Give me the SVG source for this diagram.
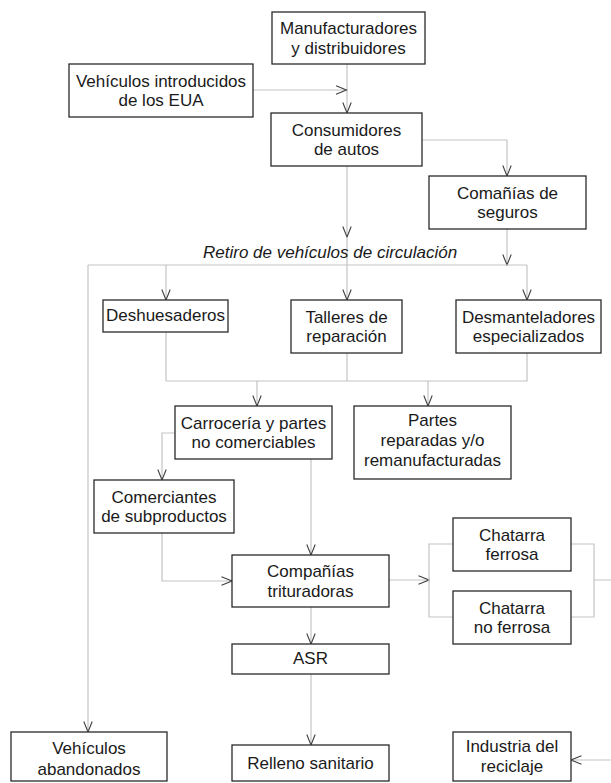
<svg xmlns="http://www.w3.org/2000/svg" width="611" height="783" viewBox="0 0 611 783">
<style>
  .box { fill: #ffffff; stroke: #2a2a2a; stroke-width: 1.3; }
  .t { font-family: "Liberation Sans", Arial, sans-serif; font-size: 17px; fill: #1a1a1a; text-anchor: middle; }
  .lbl { font-family: "Liberation Sans", Arial, sans-serif; font-size: 17px; font-style: italic; fill: #1a1a1a; }
  .c { fill: none; stroke: #c4c4c4; stroke-width: 1.2; }
  .a { marker-end: url(#arr); }
</style>
<defs>
  <marker id="arr" markerUnits="userSpaceOnUse" viewBox="-12 -6 13 12" refX="0" refY="0" markerWidth="13" markerHeight="12" orient="auto">
    <path d="M-10.5,-4.2 L0,0 L-10.5,4.2" fill="none" stroke="#404040" stroke-width="1.1"/>
  </marker>
</defs>
<rect width="611" height="783" fill="#ffffff"/>

<g id="connectors">
  <path class="c a" d="M347,64 V113"/>
  <path class="c a" d="M253,90 H346.5"/>
  <path class="c a" d="M422,140 H507 V176"/>
  <path class="c a" d="M347,166 V237"/>
  <path class="c a" d="M347,237 V300"/>
  <path class="c a" d="M507,229 V265"/>
  <path class="c" d="M88,265 H527"/>
  <path class="c a" d="M166,265 V300"/>
  <path class="c a" d="M527,265 V300"/>
  <path class="c a" d="M88,265 V732"/>
  <path class="c" d="M166,332 V381 H527 V353"/>
  <path class="c" d="M347,353 V381"/>
  <path class="c a" d="M257,381 V406"/>
  <path class="c a" d="M428,381 V406"/>
  <path class="c a" d="M175,433 H162 V480"/>
  <path class="c a" d="M311,459 V555"/>
  <path class="c a" d="M162,533 V581 H232"/>
  <path class="c a" d="M389,580 H429"/>
  <path class="c" d="M453,544 H429 V617 H453"/>
  <path class="c" d="M571,544 H594 V617 H571"/>
  <path class="c a" d="M594,580 H616 V760 H571"/>
  <path class="c a" d="M311,607 V644"/>
  <path class="c a" d="M311,674 V745"/>
</g>

<text class="lbl" x="203" y="258">Retiro de vehículos de circulación</text>

<g id="manufacturadores">
  <rect class="box" x="272" y="12" width="153" height="52"/>
  <text class="t" x="348.5" y="34">Manufacturadores</text>
  <text class="t" x="348.5" y="53.5">y distribuidores</text>
</g>
<g id="vehiculos-introducidos">
  <rect class="box" x="69" y="64" width="184" height="53"/>
  <text class="t" x="161" y="86.5">Vehículos introducidos</text>
  <text class="t" x="161" y="106">de los EUA</text>
</g>
<g id="consumidores">
  <rect class="box" x="271" y="113" width="151" height="53"/>
  <text class="t" x="346.5" y="135.5">Consumidores</text>
  <text class="t" x="346.5" y="155">de autos</text>
</g>
<g id="seguros">
  <rect class="box" x="429" y="176" width="157" height="53"/>
  <text class="t" x="507.5" y="198.5">Comañías de</text>
  <text class="t" x="507.5" y="218">seguros</text>
</g>
<g id="deshuesaderos">
  <rect class="box" x="103" y="300" width="125" height="32"/>
  <text class="t" x="165.5" y="321">Deshuesaderos</text>
</g>
<g id="talleres">
  <rect class="box" x="291" y="300" width="111" height="53"/>
  <text class="t" x="346.5" y="322.5">Talleres de</text>
  <text class="t" x="346.5" y="342">reparación</text>
</g>
<g id="desmanteladores">
  <rect class="box" x="456" y="300" width="145" height="53"/>
  <text class="t" x="528.5" y="322.5">Desmanteladores</text>
  <text class="t" x="528.5" y="342">especializados</text>
</g>
<g id="carroceria">
  <rect class="box" x="175" y="406" width="157" height="53"/>
  <text class="t" x="253.5" y="428.5">Carrocería y partes</text>
  <text class="t" x="253.5" y="448">no comerciables</text>
</g>
<g id="partes">
  <rect class="box" x="354" y="406" width="157" height="73"/>
  <text class="t" x="432.5" y="425.5">Partes</text>
  <text class="t" x="432.5" y="445.5">reparadas y/o</text>
  <text class="t" x="432.5" y="465.5">remanufacturadas</text>
</g>
<g id="comerciantes">
  <rect class="box" x="94" y="480" width="140" height="53"/>
  <text class="t" x="164" y="502.5">Comerciantes</text>
  <text class="t" x="164" y="522">de subproductos</text>
</g>
<g id="trituradoras">
  <rect class="box" x="232" y="555" width="157" height="52"/>
  <text class="t" x="310.5" y="577">Compañías</text>
  <text class="t" x="310.5" y="596.5">trituradoras</text>
</g>
<g id="chatarra-ferrosa">
  <rect class="box" x="453" y="518" width="118" height="53"/>
  <text class="t" x="512" y="540.5">Chatarra</text>
  <text class="t" x="512" y="560">ferrosa</text>
</g>
<g id="chatarra-no-ferrosa">
  <rect class="box" x="453" y="591" width="118" height="53"/>
  <text class="t" x="512" y="613.5">Chatarra</text>
  <text class="t" x="512" y="633">no ferrosa</text>
</g>
<g id="asr">
  <rect class="box" x="232" y="644" width="157" height="30"/>
  <text class="t" x="310.5" y="664">ASR</text>
</g>
<g id="relleno">
  <rect class="box" x="232" y="745" width="157" height="36"/>
  <text class="t" x="310.5" y="768.5">Relleno sanitario</text>
</g>
<g id="vehiculos-abandonados">
  <rect class="box" x="11" y="732" width="156" height="49"/>
  <text class="t" x="89" y="754">Vehículos</text>
  <text class="t" x="89" y="774.5">abandonados</text>
</g>
<g id="industria">
  <rect class="box" x="453" y="732" width="118" height="49"/>
  <text class="t" x="512" y="752">Industria del</text>
  <text class="t" x="512" y="772">reciclaje</text>
</g>
</svg>
